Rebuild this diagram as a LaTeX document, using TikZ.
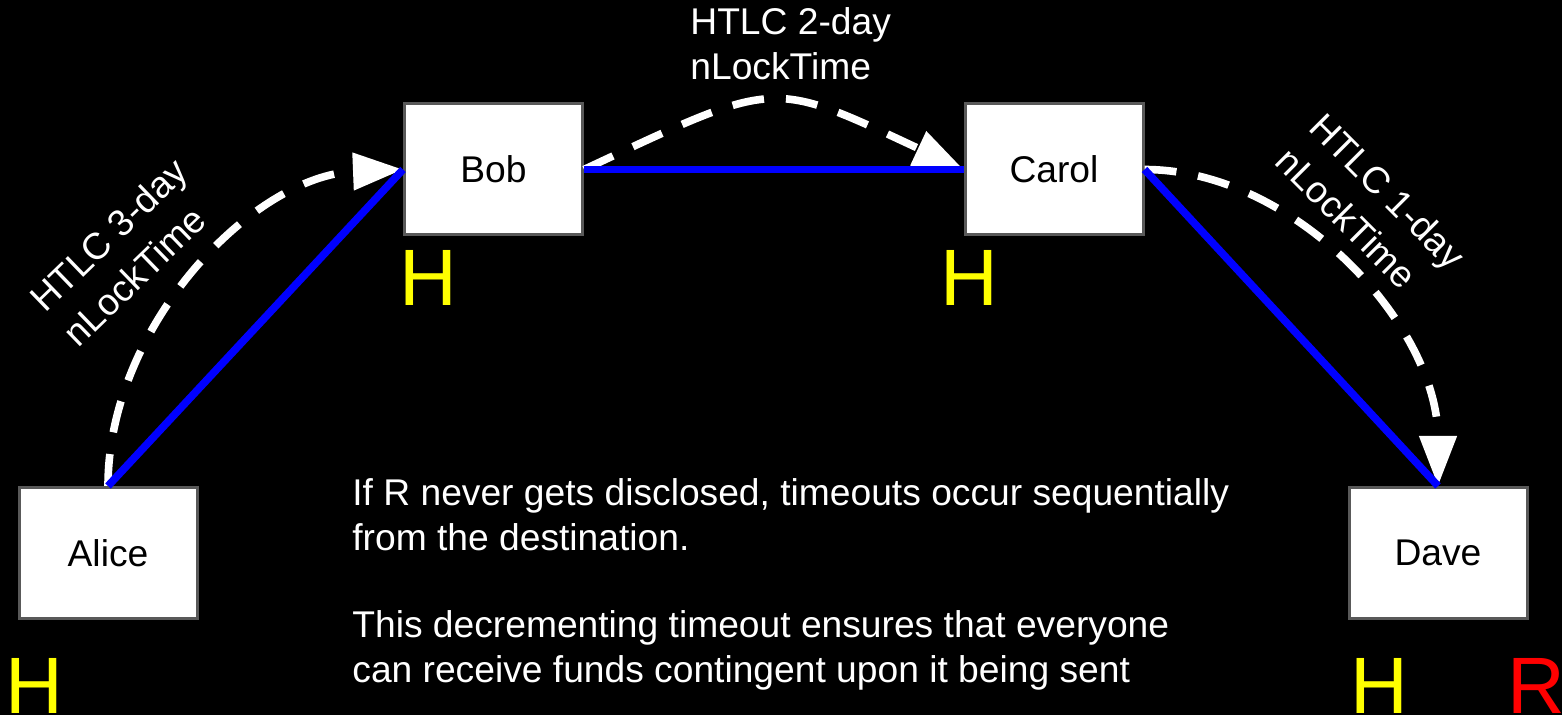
\documentclass[tikz,border=0pt]{standalone}
\usepackage{fontspec}
\setmainfont{Liberation Sans}
\usetikzlibrary{arrows.meta}
\definecolor{boxgray}{RGB}{89,89,89}
\definecolor{hashyellow}{RGB}{255,255,0}
\definecolor{chanblue}{RGB}{0,0,255}
\begin{document}
\begin{tikzpicture}[x=0.5pt,y=-0.5pt,
  party/.style={draw=boxgray, line width=1.5pt, fill=white, text=black,
    minimum width=89pt, minimum height=65.5pt, inner sep=0pt,
    font=\fontsize{18.6pt}{22pt}\selectfont},
  channel/.style={draw=chanblue, line width=3.8pt},
  htlc/.style={draw=white, line width=3.8pt, dash pattern=on 16pt off 11pt,
    -{Triangle[length=25pt,width=18pt]}},
  hashmark/.style={text=hashyellow, inner sep=0pt, anchor=base,
    font=\fontsize{40pt}{40pt}\selectfont},
  note/.style={text=white, align=left, inner sep=0pt,
    font=\fontsize{18.6pt}{22.5pt}\selectfont},
  tilted/.style={note, font=\fontsize{18.6pt}{24pt}\selectfont}
]
% canvas
\fill[black] (0,0) rectangle (1562,715);
\useasboundingbox (0,0) rectangle (1562,715);

% parties along the route
\node[party] (alice) at (108,553)    {Alice};
\node[party] (bob)   at (493.5,169.5) {Bob};
\node[party] (carol) at (1054,169.5) {Carol};
\node[party] (dave)  at (1438,553)   {Dave};

% HTLC offers with their timeouts
\draw[htlc] (alice.north) .. controls +(0,-160) and +(-150,6) .. (bob.west);
\draw[htlc] (bob.east) .. controls +(195,-91) and +(-195,-91) .. (carol.west);
\draw[htlc] (carol.east) .. controls +(150,0) and +(0,-160) .. (dave.north);

% payment channels
\draw[channel] (alice.north) -- (bob.west);
\draw[channel] (bob.east) -- (carol.west);
\draw[channel] (carol.east) -- (dave.north);

% timeout labels (the base anchor sits on the last line)
\node[tilted, rotate=44] (lab3) at (125,252) {HTLC 3-day\\nLockTime};
\node[note, anchor=base west] (lab2) at (690,80) {HTLC 2-day\\nLockTime};
\node[tilted, rotate=-45] (lab1) at (1371,208) {HTLC 1-day\\nLockTime};

% hash and preimage holders
\node[hashmark] (ha) at (34,713)    {H};
\node[hashmark] (hb) at (428.5,306) {H};
\node[hashmark] (hc) at (969,306)   {H};
\node[hashmark] (hd) at (1379.5,713) {H};
\node[hashmark, text=red, anchor=base west] (pre) at (1507,713) {R};

% explanation
\node[note, anchor=base west] (expl) at (352,682)
  {If R never gets disclosed, timeouts occur sequentially\\
   from the destination.\\[21pt]
   This decrementing timeout ensures that everyone\\
   can receive funds contingent upon it being sent};
\end{tikzpicture}
\end{document}
